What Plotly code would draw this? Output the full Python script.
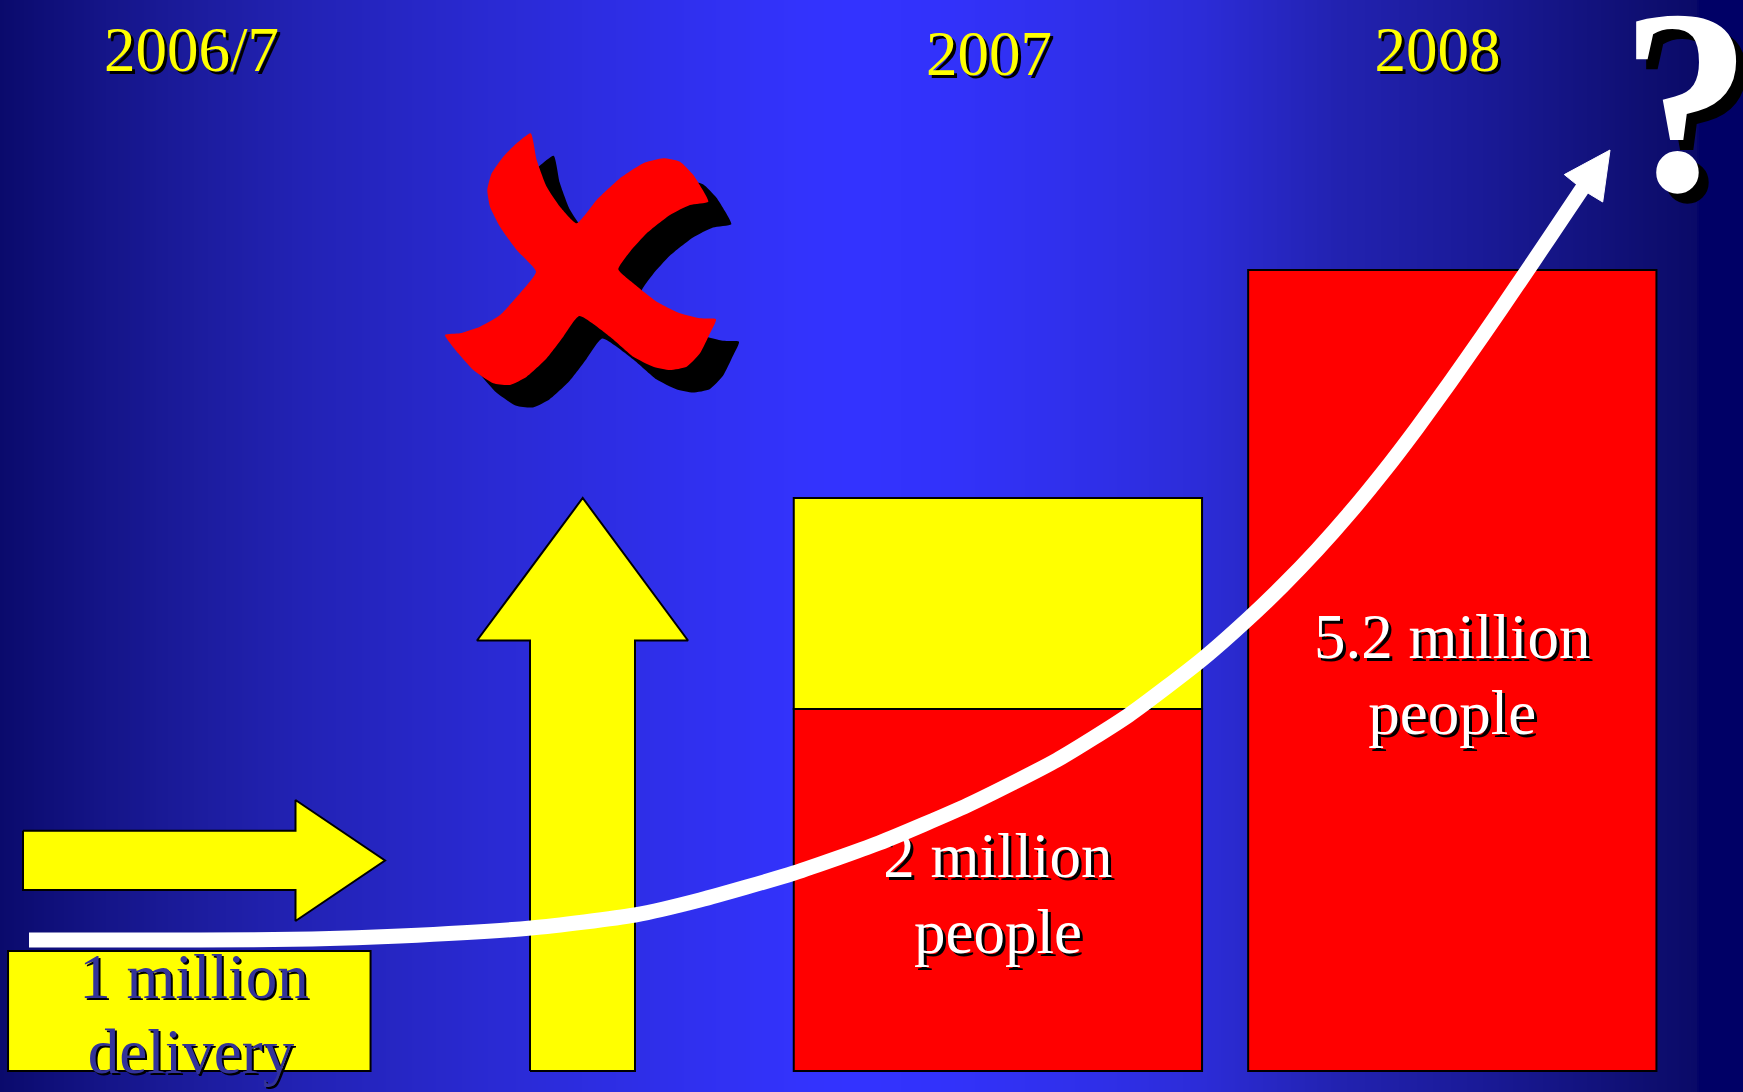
import numpy as np
import plotly.graph_objects as go

W, H = 1743, 1092

# ---------------- data ----------------
years = ["2006/7", "2007", "2008"]
bar_years = ["2007", "2008"]
red_heights = [362, 801]          # red bar heights (slide units)
yellow_heights = [211, 0]         # yellow top segment of the bars
bar_label_lines = [["2 million", "people"], ["5.2 million", "people"]]
delivery_lines = ["1 million", "delivery"]
delivery_box_height = 120
question = "?"

# growth curve (screen px, y down)
curve_x = [29, 200, 312, 400, 531, 635, 700, 794, 879, 968, 1057, 1129, 1202,
           1248, 1283, 1317, 1350, 1383, 1417, 1450, 1483, 1517, 1550, 1583]
curve_y = [940, 940, 939, 936, 928, 915, 900, 873, 843, 805, 760, 715, 659.5,
           619, 585.4, 550, 512.7, 472.4, 427.9, 382.4, 335.2, 285.6, 236.7, 187.5]
head_x = [1610, 1564.3, 1576, 1589.3, 1602.7, 1610]
head_y = [150, 174.6, 184, 193.9, 202, 150]

# red cross outline (screen px)
cross_x = [530.7, 536.7, 546.7, 560, 576.7,
           596.7, 620, 643.3, 663.3, 680, 693.3, 701.7, 708.3,
           690, 670, 646.7, 630, 618.3,
           633.3, 656.7, 680, 700, 716,
           710, 700, 686.7, 670, 653.3, 633.3, 610, 579.3,
           563.3, 546.7, 526.7, 510, 493.3, 473.3, 458.3, 445,
           460, 480, 500, 520, 536,
           516.7, 500, 490, 487.3, 491.7, 503.3, 516.7, 530.7]
cross_y = [133.3, 160, 186.7, 206.7, 223.3,
           200, 178.3, 163.3, 158.3, 161.7, 175, 188.3, 201.7,
           205, 215, 233.3, 251.7, 269.3,
           283.3, 301.7, 313.3, 318.3, 319.3,
           333.3, 353.3, 366.7, 370, 366.7, 356.7, 336.7, 316,
           336.7, 358.3, 376.7, 385, 383.3, 370, 353.3, 335,
           333.3, 326.7, 315, 293.3, 271.7,
           250, 226.7, 206.7, 190, 173.3, 156.7, 143.3, 133.3]
shadow_dx, shadow_dy = 23, 22.5

# yellow arrows (screen px)
right_arrow_x = [23, 295.5, 295.5, 385, 295.5, 295.5, 23, 23]
right_arrow_y = [830.7, 830.7, 800, 860.5, 921, 890, 890, 830.7]
up_arrow_x = [530, 530, 477, 582.7, 688, 635, 635, 530]
up_arrow_y = [1071, 640.5, 640.5, 498, 640.5, 640.5, 1071, 1071]

# ---------------- layout constants ----------------
BASE_SCREEN = 1071
bar_x = [997.9, 1452.3]
bar_w = 408.3
box_x, box_w = 189.3, 362.5
year_x = [191.5, 989, 1437.5]
year_base = [71, 75, 71]
bar_line_base = [[876.5, 953], [658, 734]]
delivery_x = [194, 191]
delivery_base = [998, 1073]
FS = 63
QFS = 263
q_x, q_base = 1686, 190

FONT = "Liberation Serif, Times New Roman, serif"


def up(ys):
    return [H - v for v in ys]


def text_y(baseline, fs):
    # scatter text 'middle' puts baseline at point + 0.25*fs (screen)
    return H - (baseline - 0.25 * fs)


grad = [
    (0.0, "rgb(10,10,108)"), (0.057, "rgb(20,20,135)"), (0.115, "rgb(28,28,158)"),
    (0.172, "rgb(34,34,180)"), (0.229, "rgb(38,38,196)"), (0.287, "rgb(42,42,212)"),
    (0.344, "rgb(45,45,226)"), (0.402, "rgb(48,48,240)"), (0.459, "rgb(51,51,252)"),
    (0.488, "rgb(51,51,255)"), (0.545, "rgb(50,50,250)"), (0.631, "rgb(47,47,232)"),
    (0.688, "rgb(44,44,216)"), (0.768, "rgb(34,34,176)"), (0.847, "rgb(26,26,152)"),
    (0.907, "rgb(19,19,128)"), (0.947, "rgb(14,14,112)"), (0.973, "rgb(10,10,104)"),
    (0.975, "rgb(0,0,102)"), (1.0, "rgb(0,0,102)"),
]

fig = go.Figure()

xe = np.linspace(0, W, 872)
zc = ((xe[:-1] + xe[1:]) / 2) / W
fig.add_trace(go.Heatmap(x=xe, y=[0, H], z=[zc], colorscale=grad, zmin=0, zmax=1,
                         showscale=False, hoverinfo="skip"))

# red cross with shadow
fig.add_trace(go.Scatter(x=[v + shadow_dx for v in cross_x], y=up([v + shadow_dy for v in cross_y]),
                         mode="lines", fill="toself", fillcolor="black",
                         line=dict(color="black", width=0, shape="spline", smoothing=0.5),
                         hoverinfo="skip"))
fig.add_trace(go.Scatter(x=cross_x, y=up(cross_y), mode="lines", fill="toself", fillcolor="#ff0000",
                         line=dict(color="#ff0000", width=0, shape="spline", smoothing=0.5),
                         hoverinfo="skip"))

# yellow arrows
for ax, ay in [(right_arrow_x, right_arrow_y), (up_arrow_x, up_arrow_y)]:
    fig.add_trace(go.Scatter(x=ax, y=up(ay), mode="lines", fill="toself", fillcolor="#ffff00",
                             line=dict(color="black", width=2), hoverinfo="skip"))

base = H - BASE_SCREEN
# delivery box
fig.add_trace(go.Bar(x=[box_x], y=[delivery_box_height], base=[base], width=[box_w],
                     marker=dict(color="#ffff00", line=dict(color="black", width=2)),
                     hoverinfo="skip"))
# stacked bars
fig.add_trace(go.Bar(x=bar_x, y=red_heights, base=[base, base], width=[bar_w, bar_w],
                     marker=dict(color="#ff0000", line=dict(color="black", width=2)),
                     hoverinfo="skip"))
fig.add_trace(go.Bar(x=[bar_x[0]], y=[yellow_heights[0]], base=[base + red_heights[0]], width=[bar_w],
                     marker=dict(color="#ffff00", line=dict(color="black", width=2)),
                     hoverinfo="skip"))


# texts
def add_text(xs, ys, texts, color, fs, shadow, weight="normal"):
    fig.add_trace(go.Scatter(x=xs, y=ys, text=texts, mode="text", textposition="middle center",
                             textfont=dict(family=FONT, size=fs, color=color, shadow=shadow,
                                           weight=weight),
                             hoverinfo="skip"))


add_text(year_x, [text_y(b, FS) for b in year_base], years, "#ffff00", FS, "3px 3px 0px #000000")
add_text(delivery_x, [text_y(b, FS) for b in delivery_base], delivery_lines, "#333399", FS,
         "2px 2px 0px #000000")
for i in range(2):
    add_text([bar_x[i]] * 2, [text_y(b, FS) for b in bar_line_base[i]], bar_label_lines[i],
             "#ffffff", FS, "3px 3px 0px #000000")
add_text([q_x], [text_y(q_base, QFS)], [question], "#ffffff", QFS, "10px 10px 0px #000000", "bold")

# growth curve with arrow head
fig.add_trace(go.Scatter(x=curve_x, y=up(curve_y), mode="lines",
                         line=dict(color="white", width=15, shape="spline", smoothing=0.6),
                         hoverinfo="skip"))
fig.add_trace(go.Scatter(x=head_x, y=up(head_y), mode="lines", fill="toself", fillcolor="white",
                         line=dict(color="white", width=1), hoverinfo="skip"))

fig.update_layout(
    width=W, height=H, margin=dict(l=0, r=0, t=0, b=0),
    showlegend=False, barmode="overlay",
    paper_bgcolor="#000066", plot_bgcolor="#000066",
    xaxis=dict(range=[0, W], visible=False, fixedrange=True),
    yaxis=dict(range=[0, H], visible=False, fixedrange=True),
)

fig.write_html("out.html", config={"displayModeBar": False, "staticPlot": True},
               post_script="document.body.style.margin='0';document.body.style.overflow='hidden';")
